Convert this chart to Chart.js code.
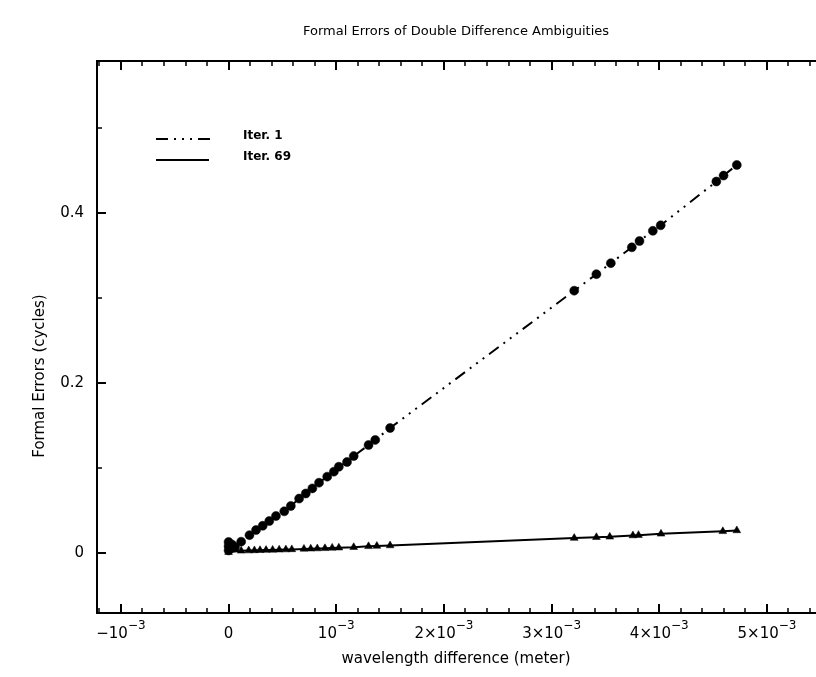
<!DOCTYPE html>
<html><head><meta charset="utf-8">
<script src="https://cdn.jsdelivr.net/npm/chart.js@4"></script>
<style>html,body{margin:0;padding:0;background:#fff;overflow:hidden}</style>
</head><body><canvas id="c" width="816" height="677"></canvas>
<script>
const chartTitle = "Formal Errors of Double Difference Ambiguities";
const xAxisTitle = "wavelength difference (meter)";
const yAxisTitle = "Formal Errors (cycles)";
const seriesNames = ["Iter. 1", "Iter. 69"];

const iter1X = [0, 0, 0, 0.00003, 0.00006, 0.000117, 0.000194, 0.000255, 0.000317, 0.000378, 0.00044, 0.000517, 0.000578, 0.000655, 0.000717, 0.000778, 0.00084, 0.000916, 0.000978, 0.001024, 0.0011, 0.001162, 0.0013, 0.001362, 0.0015, 0.00321, 0.003416, 0.00355, 0.003745, 0.003816, 0.00394, 0.004013, 0.00453, 0.004597, 0.00472];
const iter1Y = [0.003, 0.008, 0.013, 0.010, 0.007, 0.0133, 0.021, 0.027, 0.032, 0.0376, 0.0435, 0.049, 0.0553, 0.064, 0.070, 0.076, 0.0827, 0.0898, 0.0957, 0.1015, 0.107, 0.114, 0.127, 0.133, 0.147, 0.3086, 0.328, 0.341, 0.3596, 0.367, 0.379, 0.3855, 0.437, 0.444, 0.4565];

const iter69X = [0, 0.000117, 0.000187, 0.00024, 0.000292, 0.000348, 0.000409, 0.00047, 0.000532, 0.000587, 0.0007, 0.000763, 0.000824, 0.000895, 0.000962, 0.001024, 0.001162, 0.0013, 0.001377, 0.0015, 0.00321, 0.003416, 0.00354, 0.003755, 0.003807, 0.004016, 0.00459, 0.00472];
const iter69Y = [0.001, 0.0025, 0.0028, 0.003, 0.0032, 0.0034, 0.0036, 0.0038, 0.004, 0.0042, 0.0048, 0.005, 0.0052, 0.0055, 0.006, 0.0062, 0.0068, 0.0078, 0.0082, 0.0088, 0.0175, 0.0185, 0.019, 0.0205, 0.021, 0.0225, 0.0255, 0.0265];

const xTickValues = [-0.001, 0, 0.001, 0.002, 0.003, 0.004, 0.005];
const xTickMantissas = ["\u221210", "0", "10", "2\u00d710", "3\u00d710", "4\u00d710", "5\u00d710"];
const xTickExponents = ["\u22123", "", "\u22123", "\u22123", "\u22123", "\u22123", "\u22123"];
const yTickValues = [0, 0.2, 0.4];
const yTickLabels = ["0", "0.2", "0.4"];

const X_MIN = -0.001222, X_MAX = 0.005409, Y_MIN = -0.0706, Y_MAX = 0.5788;
const X_MINOR = 0.0002, Y_MINOR = 0.1;
const DASH1 = [12, 6, 2, 6, 2, 6, 2, 6];

const toPts = (xs, ys) => xs.map((x, i) => ({x: x, y: ys[i]}));
const FONT = "'DejaVu Sans', sans-serif";

const deco = {
  id: 'deco',
  afterDraw(chart) {
    const {ctx, chartArea: a, scales: {x, y}} = chart;
    ctx.save();
    ctx.strokeStyle = '#000'; ctx.fillStyle = '#000';
    ctx.lineWidth = 2; ctx.setLineDash([]);
    ctx.beginPath();
    ctx.moveTo(a.right + 5, a.top); ctx.lineTo(a.left, a.top);
    ctx.lineTo(a.left, a.bottom); ctx.lineTo(a.right + 5, a.bottom);
    ctx.stroke();
    const nMin = Math.ceil(X_MIN / X_MINOR - 1e-9), nMax = Math.floor(X_MAX / X_MINOR + 1e-9);
    for (let n = nMin; n <= nMax; n++) {
      const major = n % 5 === 0;
      const px = Math.round(x.getPixelForValue(n * X_MINOR));
      const len = major ? 9 : 5;
      ctx.lineWidth = major ? 2 : 1.5;
      ctx.beginPath();
      ctx.moveTo(px, a.bottom); ctx.lineTo(px, a.bottom - len);
      ctx.moveTo(px, a.top); ctx.lineTo(px, a.top + len);
      ctx.stroke();
    }
    const mMin = Math.ceil(Y_MIN / Y_MINOR - 1e-9), mMax = Math.floor(Y_MAX / Y_MINOR + 1e-9);
    for (let m = mMin; m <= mMax; m++) {
      const major = m % 2 === 0;
      const py = Math.round(y.getPixelForValue(m * Y_MINOR));
      const len = major ? 9 : 5;
      ctx.lineWidth = major ? 2 : 1.5;
      ctx.beginPath();
      ctx.moveTo(a.left, py); ctx.lineTo(a.left + len, py);
      ctx.stroke();
    }
    ctx.textBaseline = 'alphabetic';
    xTickValues.forEach((v, i) => {
      const px = x.getPixelForValue(v);
      ctx.font = '15px ' + FONT;
      const w1 = ctx.measureText(xTickMantissas[i]).width;
      ctx.font = '12px ' + FONT;
      const w2 = xTickExponents[i] ? ctx.measureText(xTickExponents[i]).width : 0;
      const start = px - (w1 + w2) / 2;
      ctx.font = '15px ' + FONT; ctx.textAlign = 'left';
      ctx.fillText(xTickMantissas[i], start, a.bottom + 25);
      if (w2) { ctx.font = '12px ' + FONT; ctx.fillText(xTickExponents[i], start + w1, a.bottom + 16); }
    });
    ctx.font = '15px ' + FONT; ctx.textAlign = 'right'; ctx.textBaseline = 'middle';
    yTickValues.forEach((v, i) => {
      ctx.fillText(yTickLabels[i], a.left - 13, y.getPixelForValue(v));
    });
    ctx.textAlign = 'center';
    ctx.font = '13px ' + FONT;
    ctx.fillText(chartTitle, 456, 32);
    ctx.font = '15px ' + FONT;
    ctx.fillText(xAxisTitle, 456, 659);
    ctx.save();
    ctx.translate(40, 376); ctx.rotate(-Math.PI / 2);
    ctx.fillText(yAxisTitle, 0, 0);
    ctx.restore();
    ctx.lineWidth = 2;
    ctx.setLineDash(DASH1);
    ctx.beginPath(); ctx.moveTo(156, 139); ctx.lineTo(210, 139); ctx.stroke();
    ctx.setLineDash([]);
    ctx.beginPath(); ctx.moveTo(156, 160); ctx.lineTo(209, 160); ctx.stroke();
    ctx.font = 'bold 12px ' + FONT; ctx.textAlign = 'left'; ctx.textBaseline = 'middle';
    ctx.fillText(seriesNames[0], 243, 136);
    ctx.fillText(seriesNames[1], 243, 157);
    ctx.restore();
  }
};

new Chart(document.getElementById('c'), {
  type: 'scatter',
  data: {
    datasets: [
      {label: seriesNames[0], data: toPts(iter1X, iter1Y), showLine: true,
       borderColor: '#000', borderWidth: 2, borderDash: DASH1,
       pointStyle: 'circle', pointRadius: 4.5, pointBackgroundColor: '#000', pointBorderColor: '#000', pointBorderWidth: 0.5},
      {label: seriesNames[1], data: toPts(iter69X, iter69Y), showLine: true,
       borderColor: '#000', borderWidth: 2,
       pointStyle: 'triangle', pointRadius: 4.5, pointBackgroundColor: '#000', pointBorderColor: '#000', pointBorderWidth: 0.5}
    ]
  },
  options: {
    responsive: false, animation: false,
    layout: {padding: {left: 97, top: 61, right: 0, bottom: 64}},
    scales: {
      x: {type: 'linear', min: X_MIN, max: X_MAX, display: false},
      y: {type: 'linear', min: Y_MIN, max: Y_MAX, display: false}
    },
    plugins: {legend: {display: false}, title: {display: false}, tooltip: {enabled: false}}
  },
  plugins: [deco]
});
</script>
</body></html>
